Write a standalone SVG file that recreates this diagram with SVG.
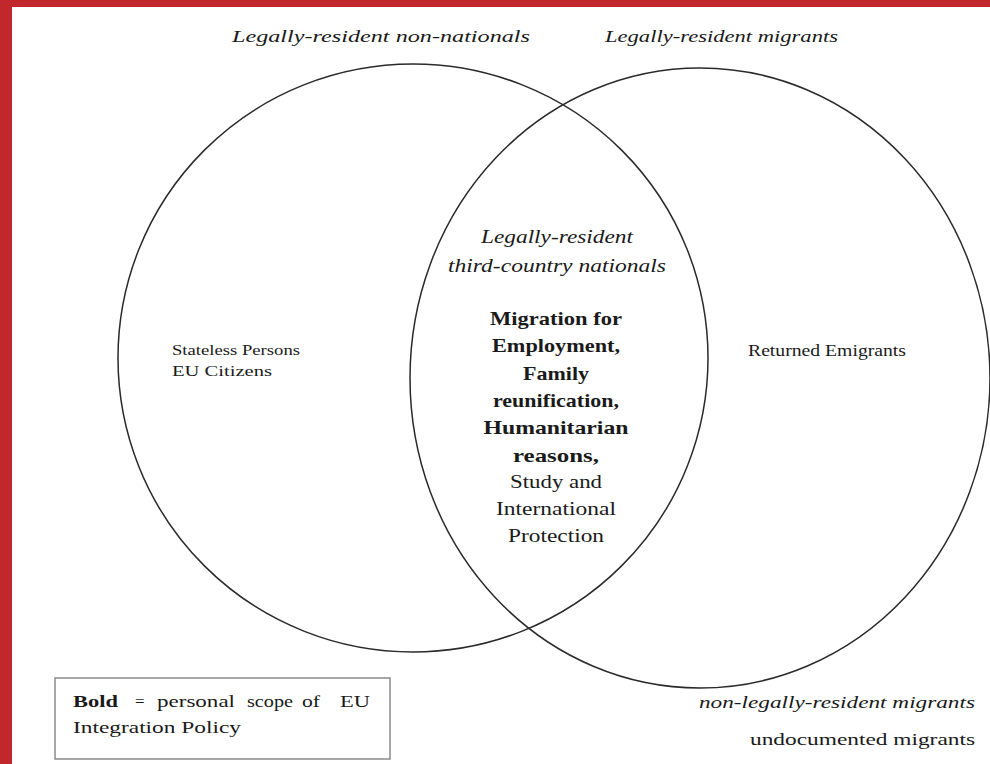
<svg xmlns="http://www.w3.org/2000/svg" width="990" height="764" viewBox="0 0 990 764">
<style>
.t{font-family:"Liberation Serif","Times New Roman",serif;fill:#1a1a1a}
.i{font-style:italic;font-size:17px}
.b{font-weight:bold;font-size:19px}
.n{font-size:19px}
.s{font-size:15px}
.c{text-anchor:middle}
.ring{fill:none;stroke:#2a2a2a;stroke-width:1.5}
</style>
<rect x="0" y="0" width="990" height="764" fill="#ffffff"/>
<rect x="0" y="0" width="990" height="7" fill="#c1272d"/>
<rect x="0" y="0" width="12" height="764" fill="#c1272d"/>
<g id="sets">
<ellipse id="left-set" class="ring" cx="413" cy="358" rx="295" ry="294"/>
<ellipse id="right-set" class="ring" cx="700" cy="378" rx="290" ry="310"/>
</g>
<g id="labels">
<text class="t i" x="232" y="42" textLength="298" lengthAdjust="spacingAndGlyphs">Legally-resident non-nationals</text>
<text class="t i" x="605" y="42" textLength="233" lengthAdjust="spacingAndGlyphs">Legally-resident migrants</text>
</g>
<g id="left-only">
<text class="t s" x="172" y="355" textLength="128" lengthAdjust="spacingAndGlyphs">Stateless Persons</text>
<text class="t s" x="172" y="376" textLength="100" lengthAdjust="spacingAndGlyphs">EU Citizens</text>
</g>
<g id="right-only">
<text class="t" style="font-size:16px" x="748" y="356" textLength="158" lengthAdjust="spacingAndGlyphs">Returned Emigrants</text>
</g>
<g id="intersection">
<text class="t i c" style="font-size:18px" x="557" y="243" textLength="152" lengthAdjust="spacingAndGlyphs">Legally-resident</text>
<text class="t i c" style="font-size:18px" x="557" y="272" textLength="218" lengthAdjust="spacingAndGlyphs">third-country nationals</text>
<text class="t b c" x="556" y="325" textLength="132" lengthAdjust="spacingAndGlyphs">Migration for</text>
<text class="t b c" x="556" y="352" textLength="128" lengthAdjust="spacingAndGlyphs">Employment,</text>
<text class="t b c" x="556" y="380" textLength="66" lengthAdjust="spacingAndGlyphs">Family</text>
<text class="t b c" x="556" y="407" textLength="126" lengthAdjust="spacingAndGlyphs">reunification,</text>
<text class="t b c" x="556" y="434" textLength="145" lengthAdjust="spacingAndGlyphs">Humanitarian</text>
<text class="t b c" x="556" y="462" textLength="86" lengthAdjust="spacingAndGlyphs">reasons,</text>
<text class="t n c" x="556" y="488" textLength="92" lengthAdjust="spacingAndGlyphs">Study and</text>
<text class="t n c" x="556" y="515" textLength="120" lengthAdjust="spacingAndGlyphs">International</text>
<text class="t n c" x="556" y="542" textLength="96" lengthAdjust="spacingAndGlyphs">Protection</text>
</g>
<g id="outside">
<text class="t i" x="699" y="708" textLength="276" lengthAdjust="spacingAndGlyphs">non-legally-resident migrants</text>
<text class="t" style="font-size:17px" x="750" y="745" textLength="225" lengthAdjust="spacingAndGlyphs">undocumented migrants</text>
</g>
<g id="legend">
<rect x="55" y="678" width="335" height="81" fill="#ffffff" stroke="#8a8a8a" stroke-width="1.5"/>
<text class="t" style="font-size:17px;font-weight:bold" x="73" y="707" textLength="45" lengthAdjust="spacingAndGlyphs">Bold</text>
<text class="t" style="font-size:17px" x="135" y="707">=</text>
<text class="t" style="font-size:17px" x="157" y="707" textLength="78" lengthAdjust="spacingAndGlyphs">personal</text>
<text class="t" style="font-size:17px" x="247" y="707" textLength="46" lengthAdjust="spacingAndGlyphs">scope</text>
<text class="t" style="font-size:17px" x="302" y="707" textLength="18" lengthAdjust="spacingAndGlyphs">of</text>
<text class="t" style="font-size:17px" x="340" y="707" textLength="30" lengthAdjust="spacingAndGlyphs">EU</text>
<text class="t" style="font-size:17px" x="73" y="733" textLength="168" lengthAdjust="spacingAndGlyphs">Integration Policy</text>
</g>
</svg>
